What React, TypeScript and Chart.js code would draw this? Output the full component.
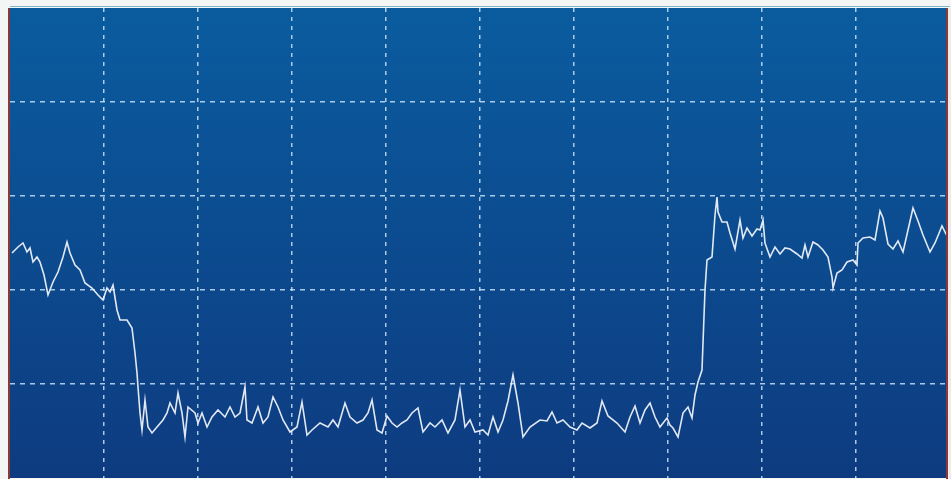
import React, { useEffect, useRef } from "react";
import { Chart, registerables } from "chart.js";

Chart.register(...registerables);

// time (sample units) and signal level (amplitude units)
const times: number[] = [
  2, 8, 13, 17, 20, 23, 27, 30, 34, 38, 43, 48, 53, 57, 60, 65, 70, 75, 82, 88,
  93, 97, 100, 103, 107, 110, 117, 122, 125, 127, 128, 130, 132, 135, 138, 142, 147, 153, 157, 160,
  165, 168, 172, 175, 178, 185, 188, 192, 197, 202, 208, 215, 220, 225, 230, 235, 237, 242, 248, 253,
  258, 263, 268, 273, 280, 287, 292, 297, 302, 310, 318, 323, 328, 335, 340, 347, 353, 358, 362, 367,
  372, 377, 382, 387, 392, 397, 402, 408, 413, 420, 425, 432, 438, 445, 450, 455, 460, 465, 473, 478,
  483, 488, 493, 498, 503, 508, 513, 520, 530, 537, 542, 547, 553, 560, 567, 572, 580, 587, 592, 598,
  607, 615, 620, 625, 630, 635, 640, 645, 650, 657, 660, 663, 668, 673, 678, 682, 685, 688, 692, 693,
  695, 697, 702, 705, 707, 708, 712, 717, 720, 725, 730, 733, 737, 742, 747, 750, 753, 755, 760, 765,
  770, 775, 780, 787, 792, 795, 798, 803, 808, 813, 818, 822, 823, 827, 832, 837, 843, 847, 848, 853,
  860, 865, 870, 873, 878, 883, 888, 893, 898, 903, 908, 913, 920, 925, 932, 937,
];

const levels: number[] = [
  225, 231, 235, 226, 230, 216, 221, 216, 203, 183, 196, 206, 221, 236, 225, 213, 208, 195, 190, 183,
  178, 190, 186, 193, 168, 158, 158, 150, 125, 105, 91, 65, 48, 78, 51, 45, 51, 58, 65, 75,
  65, 85, 65, 41, 71, 65, 55, 65, 51, 61, 68, 61, 71, 61, 65, 91, 58, 55, 71, 55,
  61, 81, 71, 58, 46, 51, 76, 43, 48, 55, 51, 58, 51, 75, 61, 55, 58, 65, 78, 48,
  45, 62, 55, 51, 55, 58, 65, 70, 46, 55, 51, 58, 45, 58, 88, 51, 58, 46, 48, 43,
  61, 46, 58, 77, 103, 75, 41, 51, 58, 57, 66, 55, 58, 51, 48, 55, 50, 55, 77, 62,
  55, 46, 61, 72, 55, 68, 75, 61, 51, 60, 53, 50, 41, 65, 71, 60, 83, 96, 108, 135,
  188, 218, 221, 263, 281, 266, 256, 256, 245, 229, 258, 240, 250, 242, 249, 248, 258, 235, 221, 231,
  224, 230, 229, 224, 220, 233, 221, 236, 233, 228, 221, 201, 190, 205, 208, 216, 218, 213, 235, 240,
  241, 238, 267, 260, 234, 229, 237, 226, 248, 270, 257, 243, 226, 235, 252, 242,
];

const xMax = 940;
const yMax = 470;
const gridStep = 94;

const backgroundPlugin = {
  id: "scopeBackground",
  beforeDraw(chart: any) {
    const { ctx, chartArea } = chart;
    if (!chartArea) return;
    const { left, top, right, bottom } = chartArea;
    ctx.save();
    const g = ctx.createLinearGradient(0, top, 0, bottom);
    g.addColorStop(0, "#0a5c9f");
    g.addColorStop(0.5, "#0c4b8f");
    g.addColorStop(1, "#0e3b80");
    ctx.fillStyle = g;
    ctx.fillRect(left, top, right - left, bottom - top);
    ctx.restore();
  },
  afterDraw(chart: any) {
    const { ctx, chartArea } = chart;
    if (!chartArea) return;
    const { left, top, right, bottom } = chartArea;
    ctx.save();
    ctx.strokeStyle = "#8a3a36";
    ctx.lineWidth = 2;
    ctx.beginPath();
    ctx.moveTo(left - 1, top);
    ctx.lineTo(left - 1, bottom + 1);
    ctx.stroke();
    ctx.beginPath();
    ctx.moveTo(right - 3, top);
    ctx.lineTo(right - 3, bottom + 1);
    ctx.stroke();
    ctx.fillStyle = "#f1e9ea";
    ctx.fillRect(right - 2, top, 3, bottom - top + 1);
    ctx.strokeStyle = "#7fb6c8";
    ctx.lineWidth = 1;
    ctx.beginPath();
    ctx.moveTo(left, top - 1.5);
    ctx.lineTo(right, top - 1.5);
    ctx.stroke();
    ctx.restore();
  },
};

const gridColor = (max: number) => (c: any) => {
  const v = c.tick ? c.tick.value : -1;
  return v <= 0 || v >= max ? "rgba(0,0,0,0)" : "rgba(200, 226, 248, 0.85)";
};

export default function App() {
  const canvasRef = useRef<HTMLCanvasElement | null>(null);

  useEffect(() => {
    document.body.style.margin = "0";
    const canvas = canvasRef.current;
    if (!canvas) return;
    const points = times.map((t, i) => ({ x: t, y: levels[i] }));
    const chart = new Chart(canvas, {
      type: "line",
      data: {
        datasets: [
          {
            data: points,
            borderColor: "rgba(236, 241, 250, 0.95)",
            borderWidth: 1.6,
            pointRadius: 0,
            tension: 0,
            fill: false,
          },
        ],
      },
      options: {
        animation: false,
        responsive: false,
        maintainAspectRatio: false,
        layout: { padding: { left: 10, top: 8, right: 1, bottom: 1 } },
        plugins: {
          legend: { display: false },
          tooltip: { enabled: false },
          title: { display: false },
        },
        scales: {
          x: {
            type: "linear",
            min: 0,
            max: xMax,
            border: { display: false, dash: [4, 5] },
            grid: { color: gridColor(xMax), lineWidth: 1.5, drawTicks: false } as any,
            ticks: { display: false, stepSize: gridStep },
          },
          y: {
            type: "linear",
            min: 0,
            max: yMax,
            border: { display: false, dash: [5, 5] },
            grid: { color: gridColor(yMax), lineWidth: 1.5, drawTicks: false } as any,
            ticks: { display: false, stepSize: gridStep },
          },
        },
      },
      plugins: [backgroundPlugin],
    });
    return () => chart.destroy();
  }, []);

  return (
    <div style={{ position: "relative", width: 951, height: 479, background: "#f4f6f6" }}>
      <canvas ref={canvasRef} width={951} height={479} style={{ display: "block" }} />
    </div>
  );
}
